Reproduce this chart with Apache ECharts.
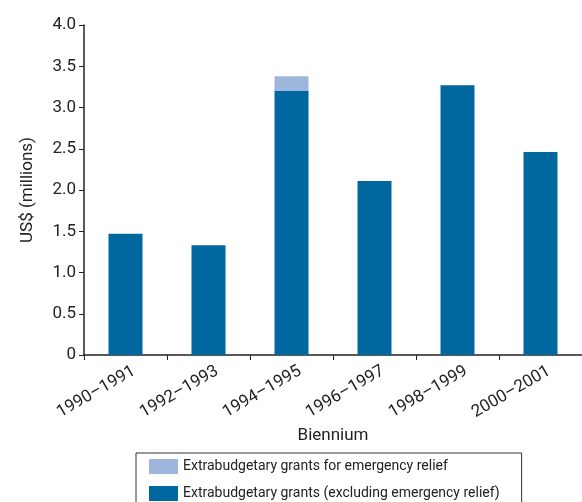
<!DOCTYPE html>
<html><head><meta charset="utf-8">
<script src="https://cdn.jsdelivr.net/npm/echarts@6/dist/echarts.min.js"></script>
<style>html,body{margin:0;padding:0;background:#fff}#c{width:582px;height:502px}</style>
</head><body><div id="c"></div>
<script>
const categories = ['1990–1991','1992–1993','1994–1995','1996–1997','1998–1999','2000–2001'];
const excludingEmergency = [1.47, 1.33, 3.20, 2.11, 3.27, 2.46];
const emergencyRelief = [0, 0, 0.18, 0, 0, 0];
const seriesNames = ['Extrabudgetary grants for emergency relief','Extrabudgetary grants (excluding emergency relief)'];
const yTicks = [0, 0.5, 1.0, 1.5, 2.0, 2.5, 3.0, 3.5, 4.0];
const FONT = '"Liberation Sans Narrow", "Roboto", "Liberation Sans", sans-serif';
const chart = echarts.init(document.getElementById('c'), null, {renderer:'canvas'});
chart.setOption({
  animation:false,
  textStyle:{fontFamily:FONT},
  grid:{left:84, right:0, top:25, bottom:147, containLabel:false},
  legend:{
    orient:'vertical', left:136, top:453, height:120,
    data:[seriesNames[0], seriesNames[1]],
    itemWidth:29, itemHeight:15, itemGap:12,
    borderColor:'#333', borderWidth:1, padding:[6,22,8,13],
    textStyle:{fontFamily:FONT, fontSize:14, color:'#222'},
    icon:'rect', selectedMode:false
  },
  xAxis:{
    type:'category', data:categories,
    axisLine:{lineStyle:{color:'#222', width:1.5}},
    axisTick:{show:true, length:5, lineStyle:{color:'#222'}},
    axisLabel:{rotate:30, fontSize:17, color:'#222', fontFamily:FONT, margin:20, padding:[0,-10,0,0]},
    name:'Biennium', nameLocation:'middle', nameGap:72,
    nameTextStyle:{fontSize:17, color:'#222', fontFamily:FONT}
  },
  yAxis:{
    type:'value', min:0, max:4, interval:0.5,
    splitLine:{show:false},
    axisLine:{show:true, lineStyle:{color:'#222', width:1.5}},
    axisTick:{show:true, length:5, inside:false, lineStyle:{color:'#222'}},
    axisLabel:{fontSize:17, color:'#222', fontFamily:FONT, margin:8,
      formatter:function(v){ return v===0 ? '0' : v.toFixed(1); }},
    name:'US$ (millions)', nameLocation:'middle', nameGap:48, nameRotate:90,
    nameTextStyle:{fontSize:17, color:'#222', fontFamily:FONT}
  },
  series:[
    {name:seriesNames[1], type:'bar', stack:'a', data:excludingEmergency, barWidth:34,
     itemStyle:{color:'#00689f'}},
    {name:seriesNames[0], type:'bar', stack:'a', data:emergencyRelief, barWidth:34,
     itemStyle:{color:'#9fb6dc'}}
  ]
});
</script></body></html>
